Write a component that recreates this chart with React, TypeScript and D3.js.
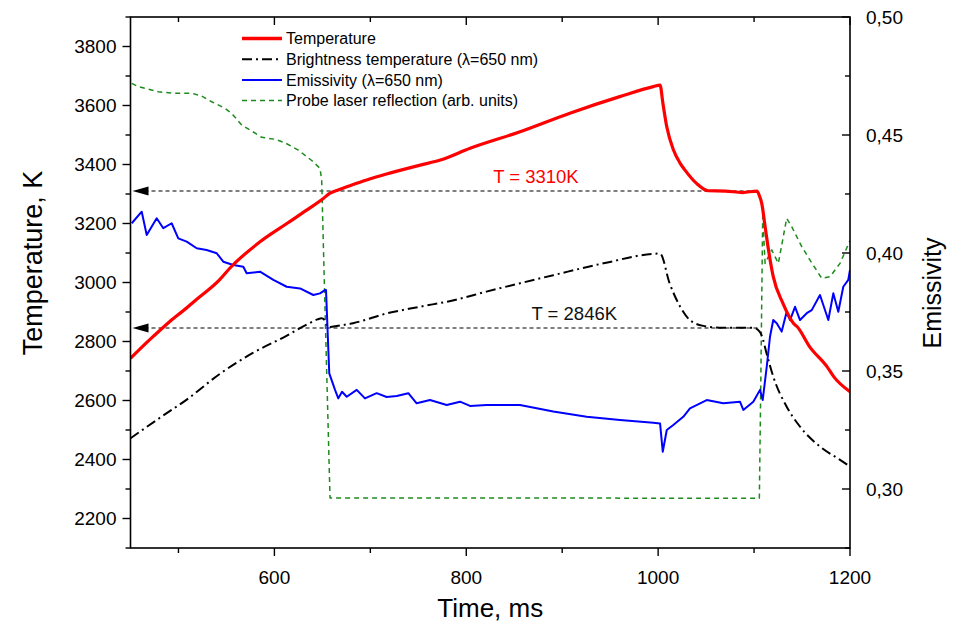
import React from 'react';
import * as d3 from 'd3';

const W = 964;
const H = 625;
const PLOT = { left: 130.5, right: 850, top: 17, bottom: 548 };

// Time axis
const timeDomain = [450, 1200];
const timeMajorTicks = [600, 800, 1000, 1200];
const timeMinorTicks = [500, 700, 900, 1100];

// Left axis (temperature)
const tempDomain = [2100, 3900];
const tempMajorTicks = [2200, 2400, 2600, 2800, 3000, 3200, 3400, 3600, 3800];
const tempMinorTicks = [2100, 2300, 2500, 2700, 2900, 3100, 3300, 3500, 3700, 3900];

// Right axis (emissivity)
const emisDomain = [0.275, 0.5];
const emisMajorTicks = [0.3, 0.35, 0.4, 0.45, 0.5];
const emisTickLabels = ['0,30', '0,35', '0,40', '0,45', '0,50'];
const emisMinorTicks = [0.275, 0.325, 0.375, 0.425, 0.475];

// Temperature (red)
const temperatureTime = [450, 460, 474, 491, 509, 516, 543, 554, 585, 613, 634, 651, 658, 665, 682, 700, 717, 752, 773, 804, 856, 908, 960, 995, 1002, 1005, 1009, 1016, 1023, 1028, 1040, 1052, 1070, 1088, 1103, 1106, 1108, 1111, 1113, 1120, 1130, 1141, 1145, 1158, 1176, 1183, 1200];
const temperatureK = [2743, 2775, 2818, 2868, 2915, 2935, 3010, 3050, 3138, 3200, 3246, 3285, 3303, 3312, 3332, 3352, 3368, 3398, 3415, 3455, 3511, 3574, 3630, 3664, 3669, 3607, 3528, 3449, 3404, 3381, 3336, 3311, 3310, 3305, 3310, 3290, 3268, 3202, 3155, 3020, 2930, 2862, 2850, 2782, 2715, 2681, 2630];

// Brightness temperature (black dash-dot)
const brightTime = [450, 480, 509, 543, 578, 613, 634, 645, 649, 653, 656, 660, 682, 717, 752, 787, 821, 891, 943, 1002, 1012, 1023, 1033, 1047, 1064, 1099, 1106, 1108, 1113, 1120, 1134, 1148, 1169, 1190, 1200];
const brightK = [2472, 2540, 2604, 2690, 2762, 2820, 2858, 2875, 2879, 2870, 2848, 2850, 2862, 2895, 2918, 2940, 2969, 3025, 3065, 3098, 2997, 2918, 2873, 2853, 2847, 2847, 2833, 2820, 2760, 2681, 2579, 2511, 2443, 2398, 2376];

// Emissivity (blue)
const emisTime = [451.3, 461.7, 466.9, 477.3, 484.2, 492.9, 499.8, 508.6, 519, 529.4, 539.9, 546.7, 557.2, 567.6, 571.1, 585, 598.9, 612.8, 626.7, 640.6, 647.5, 652.7, 653.8, 657.2, 663.2, 666.6, 670.5, 675.4, 685.8, 694.4, 706.6, 717, 727.5, 739.6, 748.3, 762.2, 779.6, 793.5, 803.9, 821.3, 856, 890.7, 925.5, 960.3, 995, 1002, 1004.8, 1009, 1015.8, 1026.2, 1033.2, 1050.6, 1067.9, 1085.3, 1088.8, 1099.2, 1106.2, 1109, 1113.2, 1116.6, 1120, 1123.6, 1128.8, 1134, 1137.5, 1142.7, 1147.9, 1154.9, 1160.1, 1168.7, 1177.4, 1182.6, 1187.8, 1193, 1198.2, 1200];
const emisValues = [0.4126, 0.4175, 0.4076, 0.4147, 0.4105, 0.4126, 0.4062, 0.4048, 0.402, 0.4013, 0.3999, 0.3963, 0.3949, 0.3942, 0.3914, 0.3921, 0.3886, 0.3857, 0.385, 0.3822, 0.3829, 0.3843, 0.3843, 0.349, 0.342, 0.3384, 0.3412, 0.3391, 0.342, 0.3384, 0.3406, 0.339, 0.3394, 0.3406, 0.3363, 0.3377, 0.3356, 0.337, 0.3352, 0.3356, 0.3356, 0.3328, 0.3306, 0.3292, 0.3281, 0.3278, 0.3158, 0.325, 0.3271, 0.3306, 0.3342, 0.3377, 0.3363, 0.337, 0.3335, 0.337, 0.342, 0.3377, 0.3518, 0.3645, 0.3716, 0.3702, 0.3667, 0.3751, 0.3716, 0.3772, 0.3716, 0.3745, 0.3758, 0.3822, 0.3716, 0.3829, 0.3751, 0.3857, 0.3886, 0.3928];

// Probe laser reflection (green dashed, arb. units on right scale)
const probeTime = [451.3, 458.1, 465.1, 479, 496.4, 513.8, 524.2, 534.6, 548.5, 555.5, 565.9, 576.3, 586.8, 600.6, 611, 624.9, 638.9, 647.5, 649.3, 651.7, 657.2, 658, 1105.5, 1106.8, 1108, 1109, 1111.5, 1118.4, 1125.3, 1134, 1139.2, 1149.7, 1158.3, 1170.5, 1179.2, 1189.6, 1200];
const probeValues = [0.4719, 0.4705, 0.4698, 0.4683, 0.4677, 0.4677, 0.4665, 0.4641, 0.4613, 0.4592, 0.4542, 0.4517, 0.449, 0.4482, 0.4467, 0.4436, 0.4392, 0.4359, 0.4309, 0.3928, 0.3081, 0.2962, 0.2961, 0.3377, 0.3801, 0.4154, 0.3956, 0.4013, 0.3956, 0.4147, 0.4112, 0.4027, 0.397, 0.3893, 0.39, 0.3956, 0.4053];

// Annotations
const plateauTemps = [3310, 2846];
const plateauLabels = ['T = 3310K', 'T = 2846K'];
const plateauColors = ['#ff0000', '#111111'];
const plateauEnd = 1105;
const plateauLabelTime = [828, 868];

const legendLabels = ['Temperature', 'Brightness temperature (\u03bb=650 nm)', 'Emissivity (\u03bb=650 nm)', 'Probe laser reflection (arb. units)'];

const FONT = "'Liberation Sans', Arial, Helvetica, sans-serif";

export default function App() {
  const x = d3.scaleLinear().domain(timeDomain).range([PLOT.left, PLOT.right]);
  const yT = d3.scaleLinear().domain(tempDomain).range([PLOT.bottom, PLOT.top]);
  const yE = d3.scaleLinear().domain(emisDomain).range([PLOT.bottom, PLOT.top]);

  const lineT = d3.line<number>().x((d, i) => x(temperatureTime[i])).y((d) => yT(d)).curve(d3.curveMonotoneX);
  const lineB = d3.line<number>().x((d, i) => x(brightTime[i])).y((d) => yT(d)).curve(d3.curveMonotoneX);
  const lineE = d3.line<number>().x((d, i) => x(emisTime[i])).y((d) => yE(d));
  const lineP = d3.line<number>().x((d, i) => x(probeTime[i])).y((d) => yE(d));

  const styles = [
    { stroke: '#ff0000', width: 3.2, dash: undefined },
    { stroke: '#000000', width: 2, dash: '10,4,2,4' },
    { stroke: '#0000ff', width: 2, dash: undefined },
    { stroke: '#1e8a1e', width: 1.5, dash: '5,4' },
  ];

  const axisColor = '#000';
  const major = 8;
  const minor = 5;

  return (
    <svg width={W} height={H} viewBox={`0 0 ${W} ${H}`} style={{ position: 'absolute', left: 0, top: 0, background: '#fff' }} fontFamily={FONT}>
      <rect x={0} y={0} width={W} height={H} fill="#fff" />
      <defs>
        <clipPath id="plotClip">
          <rect x={PLOT.left} y={PLOT.top} width={PLOT.right - PLOT.left} height={PLOT.bottom - PLOT.top} />
        </clipPath>
      </defs>

      {/* Plateau annotation lines */}
      {plateauTemps.map((t, i) => (
        <g key={'pl' + i}>
          <line x1={PLOT.left + 14} x2={x(plateauEnd)} y1={yT(t)} y2={yT(t)} stroke="#555" strokeWidth={1.4} strokeDasharray="4,3" />
          <path d={`M${PLOT.left + 2},${yT(t)} L${PLOT.left + 18},${yT(t) - 4.5} L${PLOT.left + 18},${yT(t) + 4.5} Z`} fill="#000" />
          <text x={x(plateauLabelTime[i])} y={yT(t) - 8} fontSize={18.5} fill={plateauColors[i]}>{plateauLabels[i]}</text>
        </g>
      ))}

      <g clipPath="url(#plotClip)" fill="none" strokeLinejoin="round">
        <path d={lineP(probeValues) || ''} stroke={styles[3].stroke} strokeWidth={styles[3].width} strokeDasharray={styles[3].dash} />
        <path d={lineB(brightK) || ''} stroke={styles[1].stroke} strokeWidth={styles[1].width} strokeDasharray={styles[1].dash} />
        <path d={lineE(emisValues) || ''} stroke={styles[2].stroke} strokeWidth={styles[2].width} />
        <path d={lineT(temperatureK) || ''} stroke={styles[0].stroke} strokeWidth={styles[0].width} />
      </g>

      {/* Frame */}
      <rect x={PLOT.left} y={PLOT.top} width={PLOT.right - PLOT.left} height={PLOT.bottom - PLOT.top} fill="none" stroke={axisColor} strokeWidth={1.6} />

      {/* Bottom axis ticks (outward) and top ticks (inward) */}
      {timeMajorTicks.map((t) => (
        <g key={'tx' + t}>
          <line x1={x(t)} x2={x(t)} y1={PLOT.bottom} y2={PLOT.bottom + major} stroke={axisColor} strokeWidth={1.4} />
          <line x1={x(t)} x2={x(t)} y1={PLOT.top} y2={PLOT.top + major} stroke={axisColor} strokeWidth={1.4} />
          <text x={x(t)} y={PLOT.bottom + 36} fontSize={19} textAnchor="middle">{t}</text>
        </g>
      ))}
      {timeMinorTicks.map((t) => (
        <g key={'txm' + t}>
          <line x1={x(t)} x2={x(t)} y1={PLOT.bottom} y2={PLOT.bottom + minor} stroke={axisColor} strokeWidth={1.4} />
          <line x1={x(t)} x2={x(t)} y1={PLOT.top} y2={PLOT.top + minor} stroke={axisColor} strokeWidth={1.4} />
        </g>
      ))}

      {/* Left axis */}
      {tempMajorTicks.map((t) => (
        <g key={'ty' + t}>
          <line x1={PLOT.left - major} x2={PLOT.left} y1={yT(t)} y2={yT(t)} stroke={axisColor} strokeWidth={1.4} />
          <text x={PLOT.left - 14} y={yT(t)} dy="0.35em" fontSize={19} textAnchor="end">{t}</text>
        </g>
      ))}
      {tempMinorTicks.map((t) => (
        <line key={'tym' + t} x1={PLOT.left - minor} x2={PLOT.left} y1={yT(t)} y2={yT(t)} stroke={axisColor} strokeWidth={1.4} />
      ))}

      {/* Right axis (inward ticks) */}
      {emisMajorTicks.map((e, i) => (
        <g key={'ey' + i}>
          <line x1={PLOT.right - major} x2={PLOT.right} y1={yE(e)} y2={yE(e)} stroke={axisColor} strokeWidth={1.4} />
          <text x={PLOT.right + 16} y={yE(e)} dy="0.35em" fontSize={19} textAnchor="start">{emisTickLabels[i]}</text>
        </g>
      ))}
      {emisMinorTicks.map((e) => (
        <line key={'eym' + e} x1={PLOT.right - minor} x2={PLOT.right} y1={yE(e)} y2={yE(e)} stroke={axisColor} strokeWidth={1.4} />
      ))}

      {/* Axis titles */}
      <text x={(PLOT.left + PLOT.right) / 2} y={617} fontSize={26} textAnchor="middle">Time, ms</text>
      <text transform={`translate(42,${263}) rotate(-90)`} fontSize={27} textAnchor="middle">Temperature, K</text>
      <text transform={`translate(941,${293}) rotate(-90)`} fontSize={25} textAnchor="middle">Emissivity</text>

      {/* Legend */}
      {legendLabels.map((label, i) => {
        const yy = 38.5 + i * 20.7;
        return (
          <g key={'lg' + i}>
            <line x1={242} x2={282} y1={yy} y2={yy} stroke={styles[i].stroke} strokeWidth={i === 0 ? 3.6 : styles[i].width} strokeDasharray={styles[i].dash} />
            <text x={286} y={yy} dy="0.35em" fontSize={16}>{label}</text>
          </g>
        );
      })}
    </svg>
  );
}
